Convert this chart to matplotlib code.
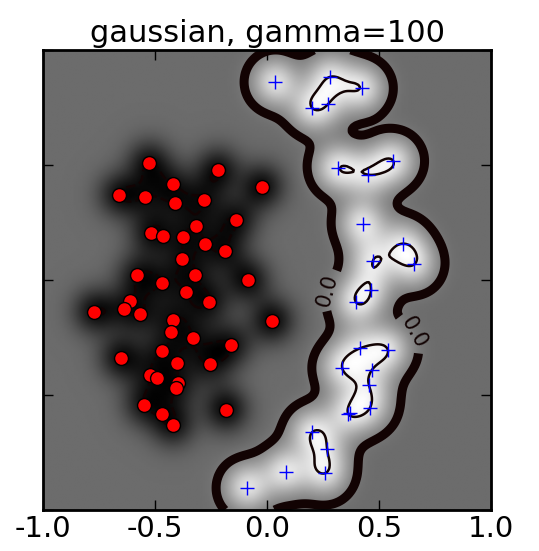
import numpy as np
import matplotlib
matplotlib.use("Agg")
import matplotlib.pyplot as plt

plt.rcParams["axes.unicode_minus"] = False

gamma = 100.0
C = 1.0

# class -1 (red circles)
neg_x = [-0.528, -0.220, -0.022, -0.661, -0.545, -0.420, -0.412, -0.283, -0.137, -0.317,
         -0.519, -0.464, -0.375, -0.275, -0.189, -0.381, -0.579, -0.320, -0.470, -0.085,
         -0.363, -0.612, -0.258, -0.772, -0.638, -0.566, -0.420, -0.429, -0.329, 0.024,
         -0.162, -0.470, -0.653, -0.403, -0.254, -0.521, -0.491, -0.399, -0.405, -0.549,
         -0.469, -0.421, -0.183]
neg_y = [0.510, 0.478, 0.406, 0.370, 0.360, 0.416, 0.333, 0.348, 0.260, 0.233,
         0.203, 0.191, 0.187, 0.157, 0.125, 0.091, 0.020, 0.023, -0.012, -0.001,
         -0.053, -0.090, -0.096, -0.138, -0.125, -0.147, -0.173, -0.226, -0.251, -0.178,
         -0.283, -0.309, -0.340, -0.361, -0.367, -0.413, -0.427, -0.449, -0.471, -0.543,
         -0.581, -0.630, -0.564]

# class +1 (blue crosses)
pos_x = [0.037, 0.281, 0.424, 0.200, 0.272, 0.317, 0.452, 0.564, 0.427, 0.607,
         0.472, 0.658, 0.464, 0.397, 0.415, 0.539, 0.335, 0.469, 0.455, 0.460,
         0.369, 0.362, 0.201, 0.268, 0.260, 0.083, -0.088]
pos_y = [0.860, 0.883, 0.833, 0.749, 0.764, 0.488, 0.457, 0.517, 0.245, 0.158,
         0.083, 0.068, -0.043, -0.097, -0.297, -0.303, -0.381, -0.390, -0.457, -0.555,
         -0.577, -0.581, -0.662, -0.733, -0.840, -0.835, -0.904]

X = np.column_stack([neg_x + pos_x, neg_y + pos_y])
y = np.array([-1.0] * len(neg_x) + [1.0] * len(pos_x))


def rbf(A, B):
    d2 = ((A[:, None, :] - B[None, :, :]) ** 2).sum(-1)
    return np.exp(-gamma * d2)


# dual svm, maximal violating pair smo
K = rbf(X, X)
n = len(y)
alpha = np.zeros(n)
G = -np.ones(n)
for it in range(20000):
    up = ((y > 0) & (alpha < C)) | ((y < 0) & (alpha > 0))
    low = ((y > 0) & (alpha > 0)) | ((y < 0) & (alpha < C))
    v = -y * G
    i = np.where(up)[0][np.argmax(v[up])]
    j = np.where(low)[0][np.argmin(v[low])]
    gap = v[i] - v[j]
    if gap < 1e-5:
        break
    t = gap / max(K[i, i] + K[j, j] - 2 * K[i, j], 1e-12)
    t = min(t, C - alpha[i] if y[i] > 0 else alpha[i])
    t = min(t, alpha[j] if y[j] > 0 else C - alpha[j])
    alpha[i] += y[i] * t
    alpha[j] -= y[j] * t
    G += y * (K[:, i] - K[:, j]) * t

free = (alpha > 1e-8) & (alpha < C - 1e-8)
if free.any():
    b = np.mean(-y[free] * G[free])
else:
    b = (v[i] + v[j]) / 2

gx = np.linspace(-1, 1, 250)
gy = np.linspace(-1, 1, 250)
XX, YY = np.meshgrid(gx, gy)
P = np.column_stack([XX.ravel(), YY.ravel()])
Z = (rbf(P, X) @ (alpha * y) + b).reshape(XX.shape)

fig = plt.figure(figsize=(5.39, 5.51), dpi=100)
ax = fig.add_axes([0.08, 0.0744, 0.831, 0.835])
ax.imshow(Z, extent=[-1, 1, -1, 1], origin="lower", cmap="gray",
          aspect="auto", interpolation="bilinear")
ax.contour(XX, YY, Z, [-1, 1], colors="#120303", linewidths=1.8)
cs = ax.contour(XX, YY, Z, [0], colors="#120303", linewidths=6.5)
ax.clabel(cs, fmt="%.1f", fontsize=15,
          manual=[(0.29, -0.05), (0.69, -0.21)])

ax.plot(neg_x, neg_y, "o", color="red", markeredgecolor="black",
        markersize=10, markeredgewidth=1)
ax.plot(pos_x, pos_y, "+", color="blue", markersize=10, markeredgewidth=1)

ax.set_xlim(-1, 1)
ax.set_ylim(-1, 1)
ax.set_xticks([-1.0, -0.5, 0.0, 0.5, 1.0])
ax.set_yticks([-1.0, -0.5, 0.0, 0.5, 1.0])
ax.set_yticklabels([])
ax.tick_params(direction="in", top=True, right=True, length=7, width=1,
               labelsize=21)
for s in ax.spines.values():
    s.set_linewidth(2)
ax.set_title("gaussian, gamma=100", fontsize=22)

fig.savefig("out.png", dpi=100)
